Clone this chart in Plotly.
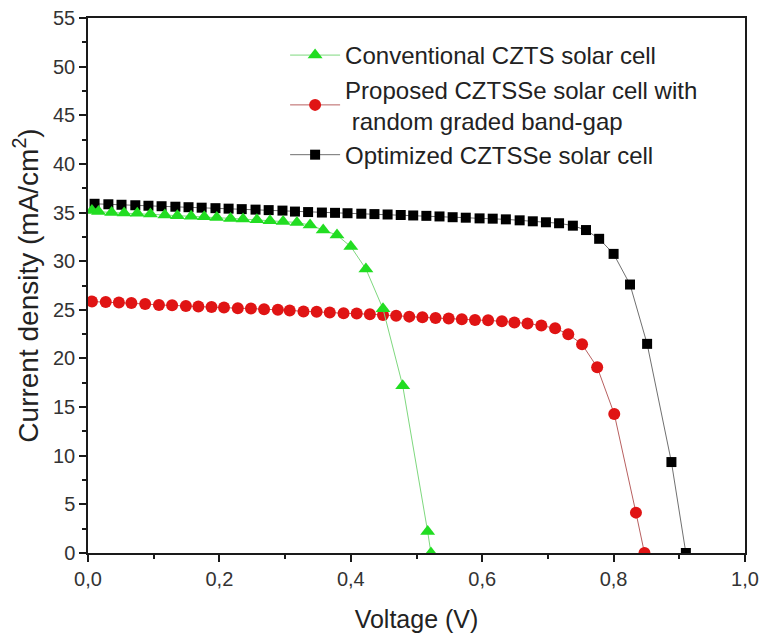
import plotly.graph_objects as go

# Conventional CZTS solar cell
conv_v = [0.006, 0.016, 0.036, 0.055, 0.075, 0.095, 0.117, 0.136, 0.157, 0.177, 0.196,
          0.217, 0.236, 0.257, 0.277, 0.297, 0.318, 0.338, 0.358, 0.379, 0.400, 0.423,
          0.449, 0.479, 0.517, 0.522]
conv_j = [35.2, 35.1, 35.0, 34.95, 34.92, 34.85, 34.75, 34.68, 34.62, 34.58, 34.5,
          34.4, 34.33, 34.25, 34.15, 34.07, 33.98, 33.71, 33.2, 32.68, 31.5, 29.2,
          25.1, 17.2, 2.2, 0.0]

# Proposed CZTSSe solar cell with random graded band-gap
prop_v = [0.006, 0.027, 0.047, 0.066, 0.087, 0.108, 0.128, 0.149, 0.168, 0.188, 0.207,
          0.228, 0.248, 0.268, 0.289, 0.307, 0.328, 0.348, 0.368, 0.389, 0.409, 0.429,
          0.449, 0.469, 0.489, 0.509, 0.529, 0.549, 0.569, 0.589, 0.609, 0.630, 0.649,
          0.669, 0.690, 0.711, 0.731, 0.752, 0.775, 0.801, 0.834, 0.847]
prop_j = [25.85, 25.8, 25.75, 25.7, 25.6, 25.5, 25.48, 25.4, 25.33, 25.3, 25.25,
          25.17, 25.13, 25.05, 25.0, 24.93, 24.82, 24.8, 24.72, 24.65, 24.62, 24.55,
          24.47, 24.38, 24.3, 24.23, 24.15, 24.1, 24.03, 23.95, 23.93, 23.83, 23.7,
          23.6, 23.38, 23.1, 22.5, 21.45, 19.1, 14.3, 4.15, 0.0]

# Optimized CZTSSe solar cell
opt_v = [0.010, 0.031, 0.051, 0.072, 0.092, 0.112, 0.133, 0.153, 0.173, 0.194, 0.214,
         0.234, 0.255, 0.275, 0.296, 0.315, 0.335, 0.356, 0.376, 0.395, 0.416, 0.436,
         0.456, 0.476, 0.495, 0.515, 0.535, 0.555, 0.575, 0.596, 0.616, 0.636, 0.657,
         0.677, 0.697, 0.717, 0.738, 0.758, 0.778, 0.800, 0.825, 0.851, 0.888, 0.910]
opt_j = [35.9, 35.85, 35.8, 35.75, 35.7, 35.65, 35.6, 35.55, 35.5, 35.45, 35.4,
         35.35, 35.3, 35.25, 35.2, 35.1, 35.05, 35.0, 34.97, 34.93, 34.88, 34.84,
         34.8, 34.75, 34.7, 34.66, 34.6, 34.52, 34.47, 34.4, 34.37, 34.3, 34.2,
         34.1, 34.0, 33.9, 33.65, 33.2, 32.3, 30.75, 27.6, 21.5, 9.35, 0.0]

names = ["Conventional CZTS solar cell",
         "Proposed CZTSSe solar cell with<br> random graded band-gap",
         "Optimized CZTSSe solar cell"]

FONT = "Arial, Liberation Sans, sans-serif"

fig = go.Figure()
fig.add_trace(go.Scatter(
    x=opt_v, y=opt_j, mode="lines+markers", name=names[2],
    line=dict(color="#707070", width=1),
    marker=dict(symbol="square", size=10, color="#000000")))
fig.add_trace(go.Scatter(
    x=prop_v, y=prop_j, mode="lines+markers", name=names[1],
    line=dict(color="#b86060", width=1),
    marker=dict(symbol="circle", size=12, color="#e01414")))
fig.add_trace(go.Scatter(
    x=conv_v, y=conv_j, mode="lines+markers", name=names[0],
    line=dict(color="#7ed87e", width=1),
    marker=dict(symbol="triangle-up", size=13, color="#22dd22")))

axis_common = dict(
    showline=True, linecolor="#1a1a1a", linewidth=1.5, mirror=True,
    ticks="outside", ticklen=7, tickwidth=1.5, tickcolor="#1a1a1a",
    showgrid=False, zeroline=False, automargin=False,
    tickfont=dict(family=FONT, size=20, color="#333333"),
)

fig.update_xaxes(
    range=[0, 1.0], dtick=0.2, tick0=0, tickformat=".1f",
    minor=dict(dtick=0.1, ticks="outside", ticklen=4, tickwidth=1.5, tickcolor="#1a1a1a"),
    title=dict(text="Voltage (V)", standoff=22,
               font=dict(family=FONT, size=25, color="#222222")),
    **axis_common)
fig.update_yaxes(
    range=[0, 55], dtick=5, tick0=0,
    minor=dict(dtick=2.5, ticks="outside", ticklen=4, tickwidth=1.5, tickcolor="#1a1a1a"),
    title=dict(text="Current density (mA/cm<sup>2</sup>)", standoff=6,
               font=dict(family=FONT, size=28, color="#222222")),
    **axis_common)

fig.update_layout(
    width=762, height=637,
    margin=dict(l=88, r=17, t=18, b=84),
    paper_bgcolor="white", plot_bgcolor="white",
    separators=", ",
    showlegend=True,
    legend=dict(
        x=0.300, y=0.972, xanchor="left", yanchor="top",
        traceorder="reversed", bgcolor="rgba(0,0,0,0)",
        font=dict(family=FONT, size=24, color="#222222"),
        tracegroupgap=0, itemwidth=50,
    ),
)

fig.write_html("out.html")
